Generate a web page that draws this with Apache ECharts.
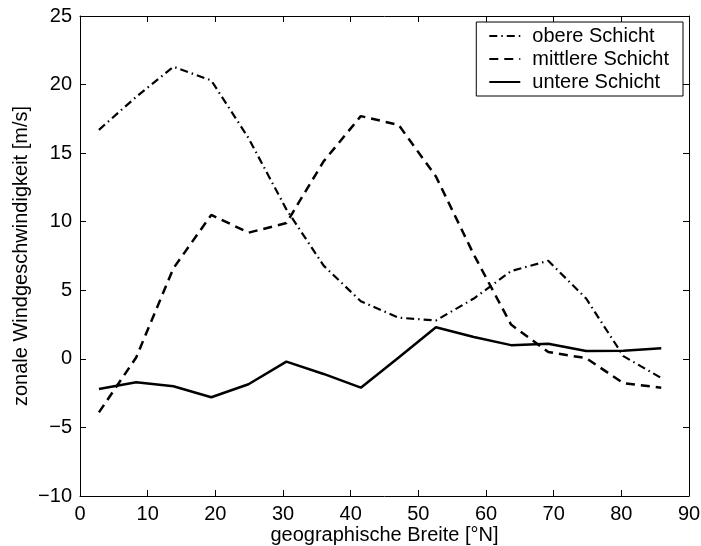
<!DOCTYPE html>
<html>
<head>
<meta charset="utf-8">
<script src="https://cdn.jsdelivr.net/npm/echarts@6/dist/echarts.min.js"></script>
<style>
html,body{margin:0;padding:0;background:#fff;}
#chart{width:701px;height:546px;}
</style>
</head>
<body>
<div id="chart"></div>
<script>
// Data
const latitudes = [2.8, 8.3, 13.8, 19.4, 24.9, 30.5, 36.0, 41.5, 47.1, 52.6, 58.2, 63.7, 69.2, 74.8, 80.3, 85.9];
const obereSchicht = [16.7, 19.1, 21.3, 20.3, 16.1, 10.9, 6.8, 4.2, 3.0, 2.8, 4.4, 6.4, 7.15, 4.4, 0.2, -1.4];
const mittlereSchicht = [-3.9, 0.1, 6.6, 10.5, 9.2, 9.9, 14.4, 17.7, 17.05, 13.3, 7.6, 2.5, 0.5, 0.05, -1.77, -2.1];
const untereSchicht = [-2.2, -1.7, -2.0, -2.8, -1.85, -0.2, -1.1, -2.1, 0.1, 2.3, 1.6, 1.0, 1.1, 0.58, 0.6, 0.78];
const seriesNames = ['obere Schicht', 'mittlere Schicht', 'untere Schicht'];
const xAxisName = 'geographische Breite [°N]';
const yAxisName = 'zonale Windgeschwindigkeit [m/s]';

const pairs = vals => latitudes.map((x, i) => [x, vals[i]]);
const FONT = '"Liberation Sans", Arial, Helvetica, sans-serif';
const minusFmt = v => String(v).replace('-', '\u2212');

const axisCommon = {
  type: 'value',
  axisLine: { show: true, onZero: false, lineStyle: { color: '#000', width: 1 } },
  axisTick: { show: true, inside: true, length: 6, lineStyle: { color: '#000', width: 1 } },
  splitLine: { show: false }
};

const chart = echarts.init(document.getElementById('chart'), null, { renderer: 'canvas' });
chart.setOption({
  animation: false,
  backgroundColor: '#fff',
  textStyle: { fontFamily: FONT },
  grid: { left: 80, right: 12, top: 16, bottom: 50, containLabel: false, outerBoundsMode: 'none' },
  xAxis: [
    Object.assign({}, axisCommon, {
      min: 0, max: 90, interval: 10, position: 'bottom',
      axisLabel: { color: '#000', fontSize: 20, fontFamily: FONT, margin: 8, formatter: minusFmt },
      name: xAxisName, nameLocation: 'middle', nameGap: 29, nameMoveOverlap: false,
      nameTextStyle: { color: '#000', fontSize: 20, fontFamily: FONT }
    }),
    Object.assign({}, axisCommon, {
      min: 0, max: 90, interval: 10, position: 'top',
      axisLabel: { show: false }
    })
  ],
  yAxis: [
    Object.assign({}, axisCommon, {
      min: -10, max: 25, interval: 5, position: 'left',
      axisLabel: { color: '#000', fontSize: 20, fontFamily: FONT, margin: 8, formatter: minusFmt },
      name: yAxisName, nameLocation: 'middle', nameGap: 49, nameRotate: 90, nameMoveOverlap: false,
      nameTextStyle: { color: '#000', fontSize: 20, fontFamily: FONT }
    }),
    Object.assign({}, axisCommon, {
      min: -10, max: 25, interval: 5, position: 'right',
      axisLabel: { show: false }
    })
  ],
  legend: {
    orient: 'vertical', right: 18, top: 22,
    backgroundColor: '#fff', borderColor: '#000', borderWidth: 1,
    padding: [4, 14, 4, 12],
    itemWidth: 31, itemHeight: 14, itemGap: 3,
    itemStyle: { opacity: 0 },
    textStyle: { color: '#000', fontSize: 20, fontFamily: FONT, padding: [0, 0, 0, 7] },
    data: seriesNames
  },
  series: [
    {
      name: seriesNames[0], type: 'line', data: pairs(obereSchicht),
      symbol: 'none', showSymbol: false,
      lineStyle: { color: '#000', width: 2.2, type: [8, 4, 1.5, 4] },
      itemStyle: { color: '#000' }
    },
    {
      name: seriesNames[1], type: 'line', data: pairs(mittlereSchicht),
      symbol: 'none', showSymbol: false,
      lineStyle: { color: '#000', width: 2.5, type: [9, 6] },
      itemStyle: { color: '#000' }
    },
    {
      name: seriesNames[2], type: 'line', data: pairs(untereSchicht),
      symbol: 'none', showSymbol: false,
      lineStyle: { color: '#000', width: 2.5, type: 'solid' },
      itemStyle: { color: '#000' }
    }
  ]
});
</script>
</body>
</html>
